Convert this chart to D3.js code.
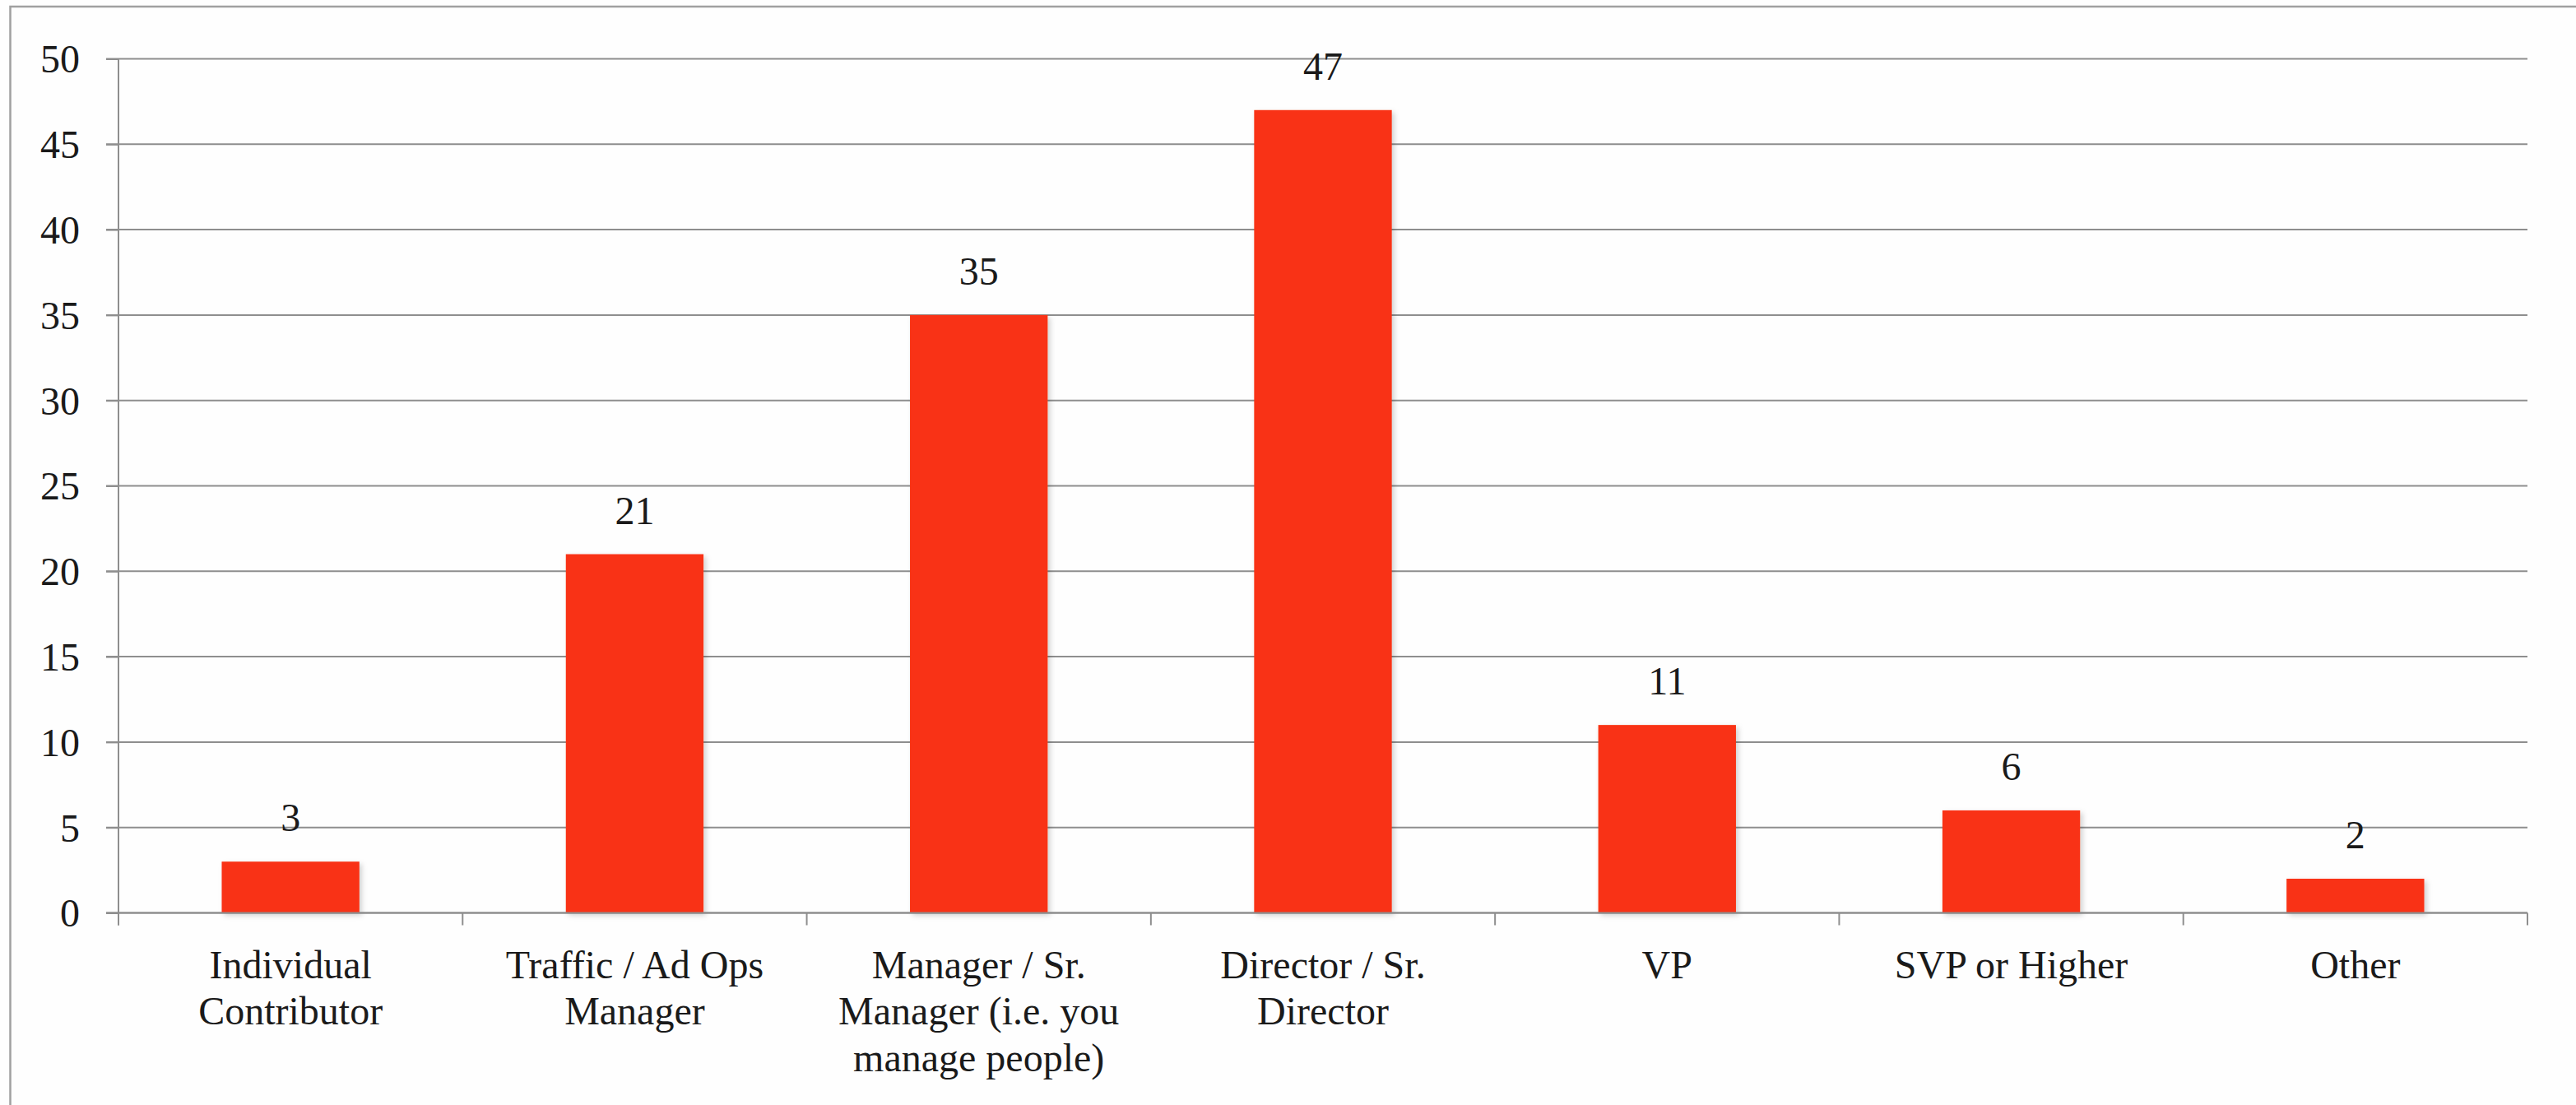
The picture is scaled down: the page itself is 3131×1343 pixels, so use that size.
<!DOCTYPE html>
<html>
<head>
<meta charset="utf-8">
<script src="https://cdn.jsdelivr.net/npm/d3@7"></script>
<style>
  html, body { margin: 0; padding: 0; background: #fefefe; }
  svg { display: block; }
</style>
</head>
<body>
<script>
const categories = [
  "Individual Contributor",
  "Traffic / Ad Ops Manager",
  "Manager / Sr. Manager (i.e. you manage people)",
  "Director / Sr. Director",
  "VP",
  "SVP or Higher",
  "Other"
];
const values = [3, 21, 35, 47, 11, 6, 2];
const yTicks = [0, 5, 10, 15, 20, 25, 30, 35, 40, 45, 50];

const W = 3131, H = 1343;
const mLeft = 144, mRight = 3072, mTop = 71.5, mBottom = 1109.5;
const FONT = "'Liberation Serif', 'DejaVu Serif', serif";
const FS = 48;

const svg = d3.select("body").append("svg").attr("width", W).attr("height", H);

// outer frame (only left and top visible)
svg.append("rect")
  .attr("x", 12.5).attr("y", 8).attr("width", W + 20).attr("height", H + 20)
  .attr("fill", "none").attr("stroke", "#a0a0a0").attr("stroke-width", 2.5);

const x = d3.scaleBand().domain(categories).range([mLeft, mRight]).paddingInner(0.6).paddingOuter(0.3);
const xb = d3.scaleBand().domain(categories).range([mLeft, mRight]);
const y = d3.scaleLinear().domain([0, 50]).range([mBottom, mTop]);

// gridlines
svg.append("g").selectAll("line").data(yTicks).join("line")
  .attr("x1", mLeft - 15).attr("x2", mRight)
  .attr("y1", d => y(d)).attr("y2", d => y(d))
  .attr("stroke", "#8e8e8e").attr("stroke-width", 2);

// y axis
const yAxis = svg.append("g").attr("transform", `translate(${mLeft},0)`)
  .call(d3.axisLeft(y).tickValues(yTicks).tickSize(15).tickPadding(32));
yAxis.select(".domain").remove();
yAxis.selectAll(".tick line").attr("stroke", "#8e8e8e").attr("stroke-width", 2);
yAxis.selectAll("text").attr("font-family", FONT).attr("font-size", FS).attr("fill", "#1a1a1a")
  .attr("dy", "0.34em");
svg.append("line").attr("x1", mLeft).attr("x2", mLeft).attr("y1", mTop).attr("y2", mBottom + 15)
  .attr("stroke", "#8e8e8e").attr("stroke-width", 2);

// x axis ticks at band boundaries
const bounds = categories.map(c => xb(c)).concat([mRight]);
svg.append("g").selectAll("line").data(bounds).join("line")
  .attr("x1", d => d).attr("x2", d => d).attr("y1", mBottom).attr("y2", mBottom + 15)
  .attr("stroke", "#8e8e8e").attr("stroke-width", 2);

// shadow filter
const defs = svg.append("defs");
const f = defs.append("filter").attr("id", "sh").attr("x", "-10%").attr("y", "-10%").attr("width", "130%").attr("height", "130%");
f.append("feDropShadow").attr("dx", 3).attr("dy", 3).attr("stdDeviation", 3).attr("flood-color", "#000").attr("flood-opacity", 0.18);

// bars
svg.append("g").selectAll("rect").data(values).join("rect")
  .attr("x", (d, i) => x(categories[i]))
  .attr("width", x.bandwidth())
  .attr("y", d => y(d))
  .attr("height", d => y(0) - y(d))
  .attr("fill", "#f93112")
  .attr("filter", "url(#sh)");

// baseline redraw
svg.append("line").attr("x1", mLeft - 15).attr("x2", mRight).attr("y1", mBottom).attr("y2", mBottom)
  .attr("stroke", "#8e8e8e").attr("stroke-width", 2);

// value labels
svg.append("g").selectAll("text").data(values).join("text")
  .attr("x", (d, i) => x(categories[i]) + x.bandwidth() / 2)
  .attr("y", d => y(d) - 37)
  .attr("text-anchor", "middle")
  .attr("font-family", FONT).attr("font-size", FS).attr("fill", "#1a1a1a")
  .text(d => d);

// category labels with wrapping
const maxW = 345;
const lh = 56.7;
const lab = svg.append("g");
categories.forEach((c, i) => {
  const cx = xb(c) + xb.bandwidth() / 2;
  const t = lab.append("text").attr("text-anchor", "middle")
    .attr("font-family", FONT).attr("font-size", FS).attr("fill", "#1a1a1a");
  const words = c.split(" ");
  let line = [];
  let lineNo = 0;
  let ts = t.append("tspan").attr("x", cx).attr("y", mBottom + 79);
  words.forEach(w => {
    line.push(w);
    ts.text(line.join(" "));
    if (ts.node().getComputedTextLength() > maxW && line.length > 1) {
      line.pop();
      ts.text(line.join(" "));
      line = [w];
      lineNo++;
      ts = t.append("tspan").attr("x", cx).attr("y", mBottom + 79 + lineNo * lh).text(w);
    }
  });
});
</script>
</body>
</html>
